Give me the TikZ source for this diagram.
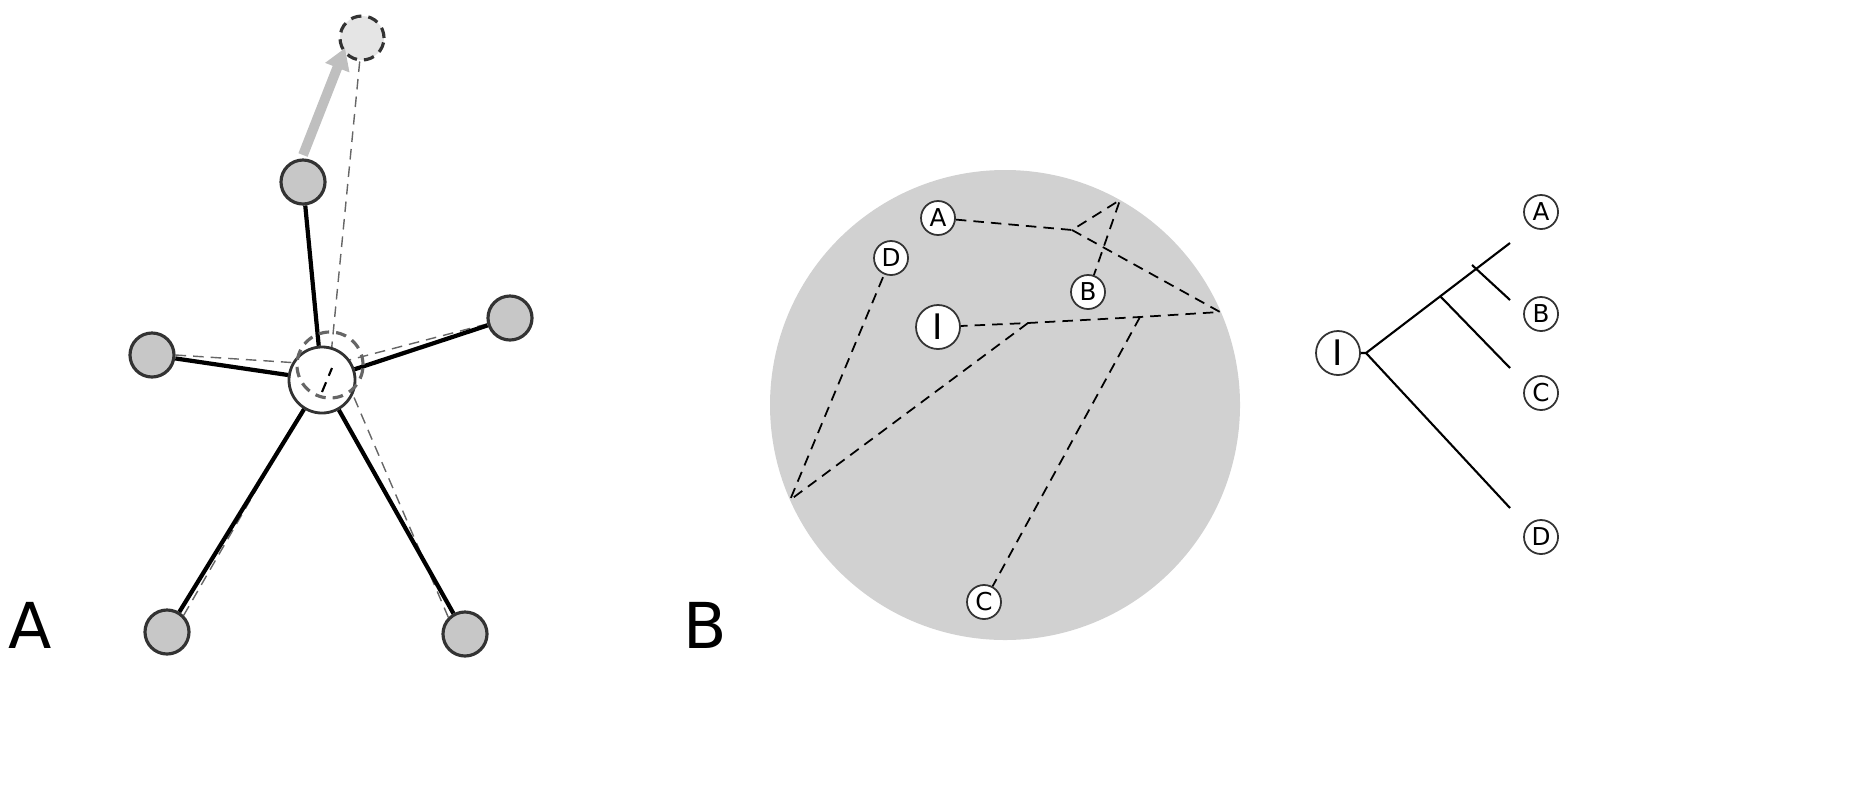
\documentclass[tikz,border=0pt]{standalone}
\usepackage{fontspec}
\setmainfont{DejaVu Sans}
\usetikzlibrary{arrows.meta}
\begin{document}
\begin{tikzpicture}[x=0.01cm,y=-0.01cm,
 gn/.style={circle,draw=black!80,line width=0.9pt,fill=black!22,inner sep=0},
 sn/.style={circle,draw=black!80,line width=0.5pt,fill=white,inner sep=0,minimum size=0.34cm,font=\scriptsize},
 dl/.style={densely dashed,line width=0.5pt},
 gl/.style={densely dashed,draw=black!60,line width=0.4pt},
 tl/.style={line width=0.6pt},
 bl/.style={line width=1.2pt}]
\useasboundingbox (0,0) rectangle (1874,800);
% Panel A
\coordinate (g) at (330,365);
\node[gn,minimum size=0.44cm] (t) at (303,182) {};
\node[gn,minimum size=0.44cm] (l) at (152,355) {};
\node[gn,minimum size=0.44cm] (r) at (510,318) {};
\node[gn,minimum size=0.44cm] (bl) at (167,632) {};
\node[gn,minimum size=0.44cm] (br) at (465,634) {};
\node[circle,densely dashed,draw=black!80,line width=0.9pt,fill=black!10,minimum size=0.44cm,inner sep=0] (gh) at (362,38) {};
\draw[gl] (gh) -- (g);
\draw[gl] (l.east) -- (g);
\draw[gl] (r) -- (g);
\draw[gl] (bl.north east) -- (315,388);
\draw[gl] (br.north west) -- (350,388);
\node[circle,draw=black!80,line width=0.8pt,fill=white,minimum size=0.66cm,inner sep=0] (c) at (322,380) {};
\foreach \n in {t,l,r,bl,br} \draw[bl] (c) -- (\n);
\node[circle,densely dashed,draw=black!60,line width=0.9pt,minimum size=0.66cm,inner sep=0] (dc) at (g) {};
\draw[densely dashed,line width=0.6pt] (322,392) -- (332,368);
\draw[line width=2.8pt,draw=black!25,-{Triangle[length=6pt,width=7pt]}] (303,155) -- (345,48);
\node[font=\fontsize{18}{18}\selectfont] (la) at (30,625) {A};
% Panel B
\fill[black!18] (1005,405) circle (235);
\coordinate (p1) at (1072,230); \coordinate (p2) at (1120,200); \coordinate (p3) at (1220,312);
\coordinate (q1) at (1028,323); \coordinate (q2) at (1140,317); \coordinate (p4) at (790,500);
\node[sn] (A) at (938,218) {A};
\node[sn] (D) at (891,258) {D};
\node[sn] (B) at (1088,292) {B};
\node[sn,minimum size=0.44cm,font=\normalsize] (I) at (938,327) {I};
\node[sn] (C) at (984,602) {C};
\draw[dl] (A) -- (p1) -- (p2) -- (B);
\draw[dl] (p1) -- (p3) -- (q2) -- (q1) -- (I);
\draw[dl] (q1) -- (p4) -- (D);
\draw[dl] (q2) -- (C);
\node[font=\fontsize{18}{18}\selectfont] (lb) at (705,625) {B};
% Tree
\node[sn,minimum size=0.44cm,font=\normalsize] (TI) at (1338,353) {I};
\node[sn] (TA) at (1541,212) {A};
\node[sn] (TB) at (1541,314) {B};
\node[sn] (TC) at (1541,393) {C};
\node[sn] (TD) at (1541,537) {D};
\coordinate (rt) at (1366,353);
\coordinate (e1) at (1510,243); \coordinate (e4) at (1510,508);
\coordinate (b1) at (1472,265); \coordinate (b2) at (1440,296);
\draw[tl] (TI) -- (rt) -- (e1);
\draw[tl] (rt) -- (e4);
\draw[tl] (b1) -- (1510,300);
\draw[tl] (b2) -- (1510,368);
\end{tikzpicture}
\end{document}
